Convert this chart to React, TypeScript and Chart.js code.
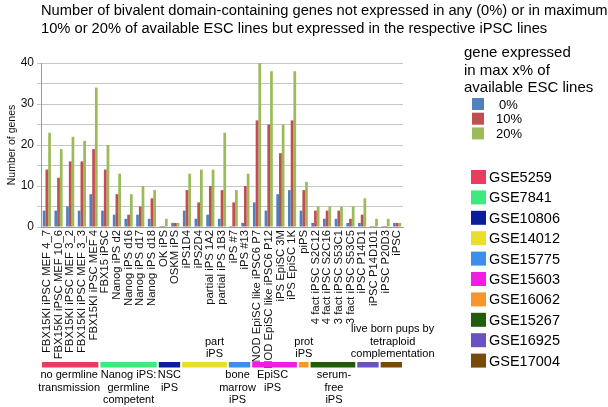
import React, { useEffect, useRef } from 'react';
import { Chart, registerables } from 'chart.js';

Chart.register(...registerables);

const titleLines = [
  'Number of bivalent domain-containing genes not expressed in any (0%) or in maximum',
  '10% or 20% of available ESC lines but expressed in the respective iPSC lines',
];

const categories = [
  'FBX15KI iPSC MEF 4_7',
  'FBX15KI iPSC MEF 10_6',
  'FBX15KI iPSC MEF 3_2',
  'FBX15KI iPSC MEF 3_3',
  'FBX15KI iPSC MEF 4',
  'FBX15 iPSC',
  'Nanog iPS d2',
  'Nanog iPS d16',
  'Nanog iPS d17',
  'Nanog iPS d18',
  'OK iPS',
  'OSKM iPS',
  'iPS1D4',
  'iPS2D4',
  'partial iPS 1A2',
  'partial iPS 1B3',
  'iPS #7',
  'iPS #13',
  'NOD EpiSC like iPSC6 P7',
  'NOD EpiSC like iPSC6 P12',
  'iPS EpiSC 3M',
  'iPS EpiSC 1K',
  'piPS',
  '4 fact iPSC S2C12',
  '4 fact iPSC S2C16',
  '3 fact iPSC S53C1',
  '3 fact iPSC S53C5',
  'iPSC P14D1',
  'iPSC P14D101',
  'iPSC P20D3',
  'iPSC',
];

const pct0 = [4, 4, 5, 4, 8, 4, 3, 2, 3, 2, 0, 1, 4, 2, 3, 2, 0, 1, 6, 4, 8, 9, 4, 1, 2, 2, 1, 1, 0, 0, 1];
const pct10 = [14, 12, 16, 16, 19, 14, 8, 3, 5, 7, 0, 1, 9, 6, 10, 9, 6, 10, 26, 25, 18, 26, 9, 4, 4, 4, 2, 3, 0, 0, 1];
const pct20 = [23, 19, 22, 21, 34, 20, 13, 8, 10, 9, 2, 1, 13, 14, 14, 23, 9, 13, 40, 38, 25, 38, 11, 5, 5, 5, 5, 7, 2, 2, 1];

const seriesNames = ['0%', '10%', '20%'];
const seriesColors = ['#4F81BD', '#C0504D', '#9BBB59'];
const legendHeader = ['gene expressed', 'in max x% of', 'available ESC lines'];

const yTicks = [0, 10, 20, 30, 40];

const gseNames = ['GSE5259', 'GSE7841', 'GSE10806', 'GSE14012', 'GSE15775', 'GSE15603', 'GSE16062', 'GSE15267', 'GSE16925', 'GSE17004'];
const gseColors = ['#EC3B5E', '#3EEA7C', '#0B1C9C', '#E9DE2A', '#3D8EEA', '#F21DE2', '#F5972B', '#1F5C0B', '#6A52C2', '#7A4A0C'];
const gseFirst = [0, 5, 10, 12, 16, 18, 22, 23, 27, 29];
const gseLast = [4, 9, 11, 15, 17, 21, 22, 26, 28, 30];

const groupLines = [
  ['no germline', 'transmission'],
  ['Nanog iPS:', 'germline', 'competent'],
  ['NSC', 'iPS'],
  ['part', 'iPS'],
  ['bone', 'marrow', 'iPS'],
  ['EpiSC', 'iPS'],
  ['prot', 'iPS'],
  ['serum-', 'free', 'iPS'],
  ['live born pups by', 'tetraploid', 'complementation'],
];
const groupFirst = [0, 5, 10, 12, 16, 18, 22, 23, 27];
const groupLast = [4, 9, 11, 15, 17, 21, 22, 26, 30];
const groupAbove = [false, false, false, true, false, false, true, false, true];
const groupShift = [-1, 0, 0, 10, -2, -2, 0, 1, 13];

const FONT = 'Arial, "Liberation Sans", sans-serif';

const overlayPlugin = {
  id: 'overlay',
  afterDraw(chart: any) {
    const ctx = chart.ctx;
    const xs = chart.scales.x;
    ctx.save();
    ctx.fillStyle = '#000';
    ctx.textBaseline = 'middle';
    ctx.textAlign = 'left';

    // title
    ctx.font = `14.7px ${FONT}`;
    titleLines.forEach((t, i) => ctx.fillText(t, 41, 11 + i * 17.5));

    // legend header
    ctx.font = `15px ${FONT}`;
    legendHeader.forEach((t, i) => ctx.fillText(t, 464, 53 + i * 17.5));

    // series legend
    ctx.font = `13px ${FONT}`;
    seriesNames.forEach((n, i) => {
      const cy = 104 + i * 14.7;
      ctx.fillStyle = seriesColors[i];
      ctx.fillRect(472, cy - 6, 12, 12);
      ctx.fillStyle = '#000';
      ctx.fillText(n, i === 0 ? 499 : 496, cy + 1);
    });

    // group colour segments
    const w = (xs.right - xs.left) / categories.length;
    gseNames.forEach((_, i) => {
      const l = xs.getPixelForValue(gseFirst[i]) - w / 2 + 1;
      const r = xs.getPixelForValue(gseLast[i]) + w / 2 - 1;
      ctx.fillStyle = gseColors[i];
      ctx.fillRect(l, 362, r - l, 5.5);
    });

    // group labels
    ctx.fillStyle = '#000';
    ctx.textAlign = 'center';
    ctx.font = `11px ${FONT}`;
    groupLines.forEach((lines, i) => {
      const l = xs.getPixelForValue(groupFirst[i]) - w / 2;
      const r = xs.getPixelForValue(groupLast[i]) + w / 2;
      const cx = (l + r) / 2 + groupShift[i];
      lines.forEach((t, j) => {
        const y = groupAbove[i] ? 354 - (lines.length - 1 - j) * 12.3 : 375 + j * 12.5;
        ctx.fillText(t, cx, y);
      });
    });

    // GSE legend
    ctx.textAlign = 'left';
    ctx.font = `14.5px ${FONT}`;
    gseNames.forEach((n, i) => {
      const cy = 177 + i * 20.4;
      ctx.fillStyle = gseColors[i];
      ctx.fillRect(471, cy - 7, 15, 14);
      ctx.fillStyle = '#000';
      ctx.fillText(n, 489, cy + 1);
    });

    ctx.restore();
  },
};

export default function App() {
  const ref = useRef<HTMLCanvasElement>(null);

  useEffect(() => {
    if (!ref.current) return;
    const chart = new Chart(ref.current, {
      type: 'bar',
      data: {
        labels: categories,
        datasets: [pct0, pct10, pct20].map((d, i) => ({
          label: seriesNames[i],
          data: d,
          backgroundColor: seriesColors[i],
          borderWidth: 0,
          barPercentage: 1,
          categoryPercentage: 0.7,
          minBarLength: 1,
        })),
      },
      options: {
        animation: false,
        responsive: false,
        maintainAspectRatio: false,
        layout: { padding: { top: 63, right: 205, left: 0, bottom: 0 } },
        plugins: {
          legend: { display: false },
          title: { display: false },
          tooltip: { enabled: false },
        },
        scales: {
          x: {
            grid: { display: false, drawTicks: false },
            border: { display: true, color: '#9a9a9a' },
            ticks: {
              autoSkip: false,
              maxRotation: 90,
              minRotation: 90,
              padding: 3,
              color: '#111',
              font: { family: FONT, size: 11.3 },
            },
            afterFit: (s: any) => {
              s.height = 180;
            },
          },
          y: {
            min: 0,
            max: 40,
            ticks: {
              stepSize: 5,
              color: '#111',
              padding: 3,
              font: { family: FONT, size: 12 },
              callback: (v: any) => (yTicks.includes(Number(v)) ? String(v) : ''),
            },
            grid: { color: '#c6c6c6', tickLength: 4, lineWidth: 1 },
            border: { display: true, color: '#9a9a9a' },
            title: {
              display: true,
              text: 'Number of genes',
              color: '#111',
              font: { family: FONT, size: 10.5 },
              padding: { top: 6, bottom: 0 },
            },
            afterFit: (s: any) => {
              s.width = 41;
            },
          },
        },
      },
      plugins: [overlayPlugin],
    });
    return () => chart.destroy();
  }, []);

  return (
    <div style={{ position: 'absolute', left: 0, top: 0, width: 608, height: 407, background: '#fff' }}>
      <canvas ref={ref} width={608} height={407} style={{ display: 'block' }} />
    </div>
  );
}
